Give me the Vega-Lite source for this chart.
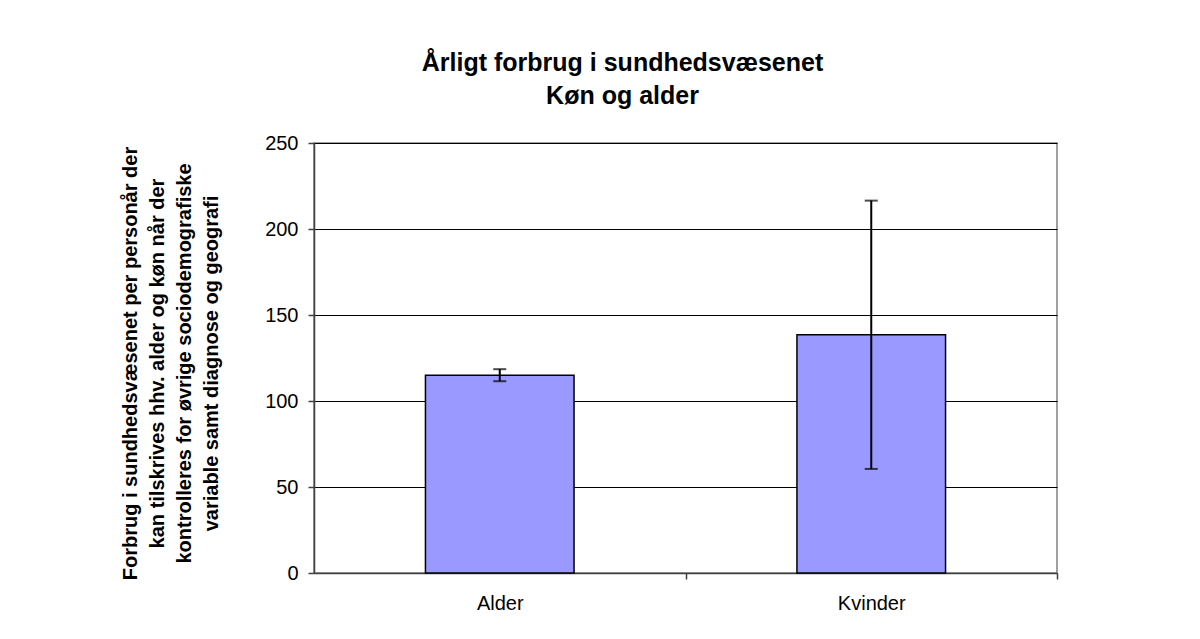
{
  "$schema": "https://vega.github.io/schema/vega-lite/v6.json",
  "autosize": {"type": "none"},
  "width": 743,
  "height": 430,
  "padding": {"left": 314, "top": 143, "right": 143, "bottom": 66},
  "background": "white",
  "title": {
    "text": ["Årligt forbrug i sundhedsvæsenet", "Køn og alder"],
    "font": "Liberation Sans",
    "fontSize": 25,
    "fontWeight": "bold",
    "color": "black",
    "lineHeight": 33,
    "anchor": "middle",
    "dx": -63,
    "offset": 24
  },
  "data": {
    "values": [
      {"kategori": "Alder", "vaerdi": 115, "lav": 111.5, "hoej": 118.5},
      {"kategori": "Kvinder", "vaerdi": 138.5, "lav": 60.5, "hoej": 216.5}
    ]
  },
  "encoding": {
    "x": {
      "field": "kategori",
      "type": "nominal",
      "sort": null,
      "scale": {"paddingInner": 0.6, "paddingOuter": 0.3},
      "axis": {
        "title": null,
        "labelAngle": 0,
        "labelFont": "Liberation Sans",
        "labelFontSize": 20,
        "labelColor": "black",
        "labelPadding": 14,
        "labelOffset": -111.5,
        "ticks": true,
        "bandPosition": 1,
        "tickOffset": 111.5,
        "tickSize": 6,
        "tickWidth": 1.5,
        "tickColor": "#404040",
        "domainColor": "#404040",
        "domainWidth": 1.5,
        "grid": false
      }
    }
  },
  "layer": [
    {
      "mark": {"type": "bar", "color": "#9999FF", "stroke": "black", "strokeWidth": 1.5},
      "encoding": {
        "y": {
          "field": "vaerdi",
          "type": "quantitative",
          "scale": {"domain": [0, 250], "nice": false},
          "axis": {
            "values": [0, 50, 100, 150, 200, 250],
            "title": [
              "Forbrug i sundhedsvæsenet per personår der",
              "kan tilskrives hhv. alder og køn når der",
              "kontrolleres for øvrige sociodemografiske",
              "variable samt diagnose og geografi"
            ],
            "titleFont": "Liberation Sans",
            "titleFontSize": 20,
            "titleFontWeight": "bold",
            "titleColor": "black",
            "titleLineHeight": 27,
            "titlePadding": 43,
            "titleY": 220,
            "labelFont": "Liberation Sans",
            "labelFontSize": 20,
            "labelColor": "black",
            "labelPadding": 10,
            "tickSize": 6,
            "tickWidth": 1.5,
            "tickColor": "#404040",
            "domainColor": "#404040",
            "domainWidth": 1.5,
            "grid": true,
            "gridColor": "black",
            "gridWidth": 1,
            "gridOpacity": 1
          }
        }
      }
    },
    {
      "mark": {"type": "rule", "color": "black", "strokeWidth": 2},
      "encoding": {
        "y": {"field": "lav", "type": "quantitative"},
        "y2": {"field": "hoej"}
      }
    },
    {
      "mark": {"type": "tick", "color": "black", "thickness": 2, "size": 13, "orient": "horizontal"},
      "encoding": {"y": {"field": "lav", "type": "quantitative"}}
    },
    {
      "mark": {"type": "tick", "color": "black", "thickness": 2, "size": 13, "orient": "horizontal"},
      "encoding": {"y": {"field": "hoej", "type": "quantitative"}}
    }
  ],
  "config": {
    "view": {"stroke": "#808080", "strokeWidth": 1.5}
  }
}
